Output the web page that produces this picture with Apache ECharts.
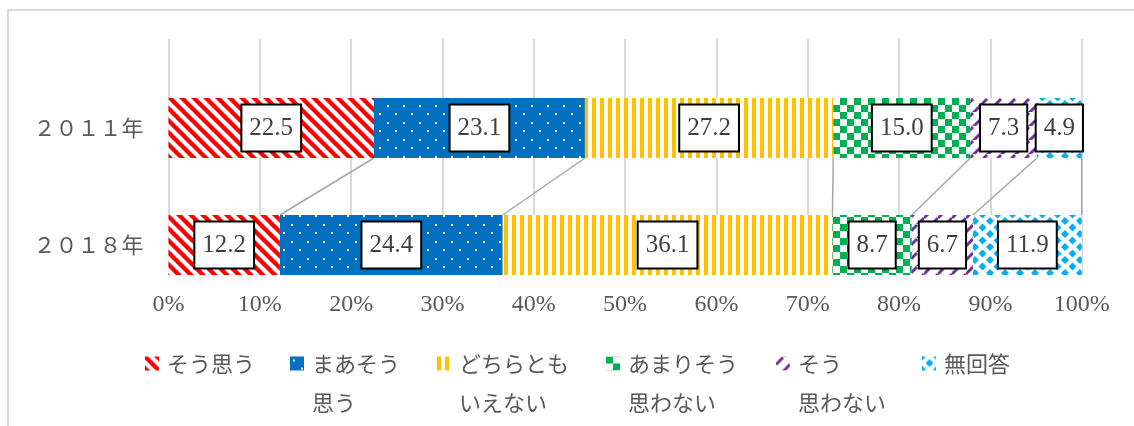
<!DOCTYPE html>
<html>
<head>
<meta charset="utf-8">
<script src="https://cdn.jsdelivr.net/npm/echarts@6/dist/echarts.min.js"></script>
<style>
  html, body { margin: 0; padding: 0; background: #fff; }
  #chart { width: 1134px; height: 426px; }
</style>
</head>
<body>
<div id="chart"></div>
<script>
// Survey answers by year (percent of respondents)
const categories = ['２０１１年', '２０１８年'];
const seriesNames = ['そう思う', 'まあそう思う', 'どちらともいえない', 'あまりそう思わない', 'そう思わない', '無回答'];
// legend text split over lines; the leading blank line keeps the icon level with the first text line
const legendLabels = ['\nそう思う\n', '\nまあそう\n思う', '\nどちらとも\nいえない', '\nあまりそう\n思わない', '\nそう\n思わない', '\n無回答\n'];
const values2011 = [22.5, 23.1, 27.2, 15.0, 7.3, 4.9];
const values2018 = [12.2, 24.4, 36.1, 8.7, 6.7, 11.9];

const FONT = "'Liberation Serif', 'Noto Sans CJK JP', serif";
const JP_FONT = "'Noto Sans CJK JP', 'Liberation Serif', sans-serif";
const BAR_WIDTH = 60;

// Small canvas tiles used as repeating fill patterns
function tile(w, h, bg, draw) {
  const c = document.createElement('canvas');
  c.width = w; c.height = h;
  const ctx = c.getContext('2d');
  ctx.fillStyle = bg;
  ctx.fillRect(0, 0, w, h);
  draw(ctx, w, h);
  return c;
}
const patterns = [
  // red wide downward diagonal
  tile(12, 12, '#ffffff', (ctx) => {
    ctx.strokeStyle = '#ff0000';
    ctx.lineWidth = 4.4;
    for (let k = -1; k <= 1; k++) {
      ctx.beginPath();
      ctx.moveTo(k * 12 - 2, -2);
      ctx.lineTo(k * 12 + 14, 14);
      ctx.stroke();
    }
  }),
  // blue with staggered white dots
  tile(16, 17, '#0070c0', (ctx) => {
    ctx.fillStyle = '#ffffff';
    ctx.fillRect(3, 3, 2, 2);
    ctx.fillRect(11, 11, 2, 2);
  }),
  // yellow vertical stripes
  tile(8, 8, '#ffffff', (ctx) => {
    ctx.fillStyle = '#ffc000';
    ctx.fillRect(0, 0, 4, 8);
  }),
  // green checkerboard
  tile(14, 14, '#ffffff', (ctx) => {
    ctx.fillStyle = '#00b050';
    ctx.fillRect(0, 0, 7, 7);
    ctx.fillRect(7, 7, 7, 7);
  }),
  // purple dashed upward diagonal
  tile(14, 14, '#ffffff', (ctx) => {
    ctx.strokeStyle = '#7030a0';
    ctx.lineWidth = 3;
    ctx.beginPath();
    ctx.moveTo(0, 8); ctx.lineTo(7, 1);
    ctx.moveTo(7, 15); ctx.lineTo(14, 8);
    ctx.stroke();
  }),
  // cyan diamonds
  tile(15, 13, '#ffffff', (ctx) => {
    ctx.fillStyle = '#00b0f0';
    const r = 4;
    const pts = [[0, 0], [15, 0], [0, 13], [15, 13], [7.5, 6.5]];
    pts.forEach(([x, y]) => {
      ctx.beginPath();
      ctx.moveTo(x, y - r); ctx.lineTo(x + r, y); ctx.lineTo(x, y + r); ctx.lineTo(x - r, y);
      ctx.closePath();
      ctx.fill();
    });
  })
];

// cumulative boundaries for the connector lines
function cumulative(arr) {
  let s = 0;
  return arr.map(v => (s += v));
}
const cum2011 = cumulative(values2011);
const cum2018 = cumulative(values2018);
const connectorData = cum2011.map((v, i) => [v, cum2018[i]]);

const chart = echarts.init(document.getElementById('chart'));

const barSeries = seriesNames.map((name, i) => ({
  name,
  type: 'bar',
  stack: 'total',
  xAxisIndex: 1,
  yAxisIndex: 1,
  barWidth: BAR_WIDTH,
  itemStyle: { color: { image: patterns[i], repeat: 'repeat' } },
  label: {
    show: true,
    position: 'inside',
    formatter: p => p.value.toFixed(1),
    fontFamily: FONT,
    fontSize: 25,
    lineHeight: 25,
    color: '#404040',
    backgroundColor: '#ffffff',
    borderColor: '#000000',
    borderWidth: 2,
    padding: [10, 7]
  },
  data: [values2011[i], values2018[i]]
}));

const legendLeft = [145, 290, 437, 606, 776, 922];
const legends = seriesNames.map((name, i) => ({
  data: [name],
  left: legendLeft[i],
  top: 305,
  padding: 0,
  icon: 'rect',
  itemWidth: 14,
  itemHeight: 14,
  selectedMode: false,
  formatter: () => legendLabels[i],
  textStyle: {
    fontFamily: JP_FONT,
    fontSize: 22,
    lineHeight: 39,
    color: '#595959',
    padding: [0, 0, 0, 3]
  }
}));

chart.setOption({
  animation: false,
  textStyle: { fontFamily: FONT },
  graphic: [{
    type: 'rect',
    silent: true,
    z: -10,
    shape: { x: 8, y: 10, width: 1200, height: 500 },
    style: { fill: 'none', stroke: '#d9d9d9', lineWidth: 2 }
  }],
  legend: legends,
  grid: [
    // grid carrying the percent scale and vertical gridlines
    { left: 168.5, right: 52.3, top: 39, height: 236 },
    // grid carrying the bars
    { left: 168.5, right: 52.3, top: 69.5, height: 234 }
  ],
  xAxis: [
    {
      gridIndex: 0,
      type: 'value',
      min: 0,
      max: 100,
      interval: 10,
      axisLine: { show: false },
      axisTick: { show: false },
      splitLine: { show: true, lineStyle: { color: '#d9d9d9', width: 2 } },
      axisLabel: {
        formatter: '{value}%',
        fontFamily: FONT,
        fontSize: 24,
        color: '#595959',
        margin: 18
      }
    },
    { gridIndex: 1, type: 'value', min: 0, max: 100, show: false }
  ],
  yAxis: [
    { gridIndex: 0, type: 'value', show: false },
    {
      gridIndex: 1,
      type: 'category',
      inverse: true,
      data: categories,
      axisLine: { show: false },
      axisTick: { show: false },
      axisLabel: {
        fontFamily: JP_FONT,
        fontSize: 22,
        color: '#595959',
        margin: 25
      }
    }
  ],
  series: [
    ...barSeries,
    {
      name: 'connectors',
      type: 'custom',
      xAxisIndex: 1,
      yAxisIndex: 1,
      encode: { x: [0, 1] },
      silent: true,
      renderItem: (params, api) => {
        const p1 = api.coord([api.value(0), 0]);
        const p2 = api.coord([api.value(1), 1]);
        const half = BAR_WIDTH / 2;
        return {
          type: 'line',
          shape: { x1: p1[0], y1: p1[1] + half, x2: p2[0], y2: p2[1] - half },
          style: { stroke: '#a6a6a6', lineWidth: 1.5 }
        };
      },
      data: connectorData
    }
  ]
});
</script>
</body>
</html>
